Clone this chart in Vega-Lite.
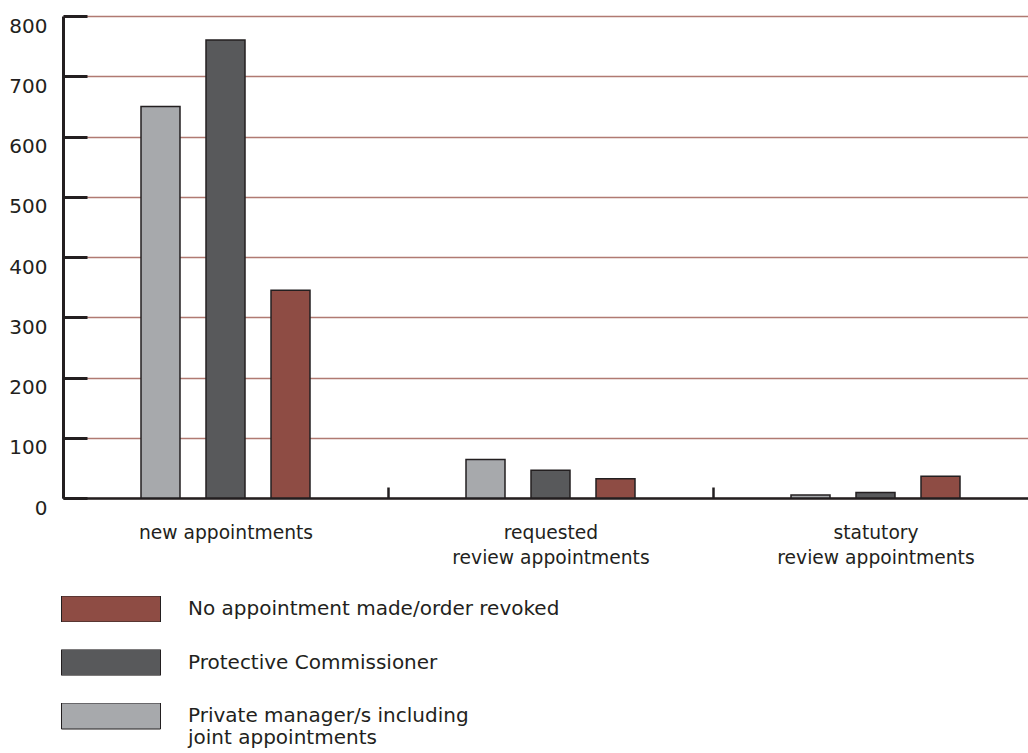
{
  "$schema": "https://vega.github.io/schema/vega-lite/v6.json",
  "width": 965,
  "height": 482,
  "autosize": "none",
  "padding": {"left": 63, "top": 16, "right": 0, "bottom": 255},
  "background": "white",
  "data": {
    "values": [
      {"type": "new appointments", "series": "Private manager/s including joint appointments", "value": 650},
      {"type": "new appointments", "series": "Protective Commissioner", "value": 760},
      {"type": "new appointments", "series": "No appointment made/order revoked", "value": 345},
      {"type": "requested review appointments", "series": "Private manager/s including joint appointments", "value": 64},
      {"type": "requested review appointments", "series": "Protective Commissioner", "value": 46},
      {"type": "requested review appointments", "series": "No appointment made/order revoked", "value": 32},
      {"type": "statutory review appointments", "series": "Private manager/s including joint appointments", "value": 5},
      {"type": "statutory review appointments", "series": "Protective Commissioner", "value": 9},
      {"type": "statutory review appointments", "series": "No appointment made/order revoked", "value": 36}
    ]
  },
  "mark": {"type": "bar", "stroke": "#231f20", "strokeWidth": 1.5},
  "encoding": {
    "x": {
      "field": "type",
      "type": "nominal",
      "sort": ["new appointments", "requested review appointments", "statutory review appointments"],
      "scale": {"range": [0, 975], "paddingInner": 0, "paddingOuter": 0},
      "axis": {
        "title": null,
        "domainColor": "#231f20",
        "domainWidth": 2.5,
        "tickColor": "#231f20",
        "tickWidth": 2.5,
        "tickSize": -11,
        "tickBand": "extent",
        "labelPadding": 36,
        "labelBaseline": "top",
        "labelAngle": 0,
        "labelLimit": 0,
        "labelFont": "DejaVu Sans",
        "labelFontSize": 18.7,
        "labelColor": "#231f20",
        "labelLineHeight": 25,
        "labelExpr": "datum.label == 'requested review appointments' ? ['requested', 'review appointments'] : datum.label == 'statutory review appointments' ? ['statutory', 'review appointments'] : datum.label"
      }
    },
    "xOffset": {
      "field": "series",
      "sort": ["Private manager/s including joint appointments", "Protective Commissioner", "No appointment made/order revoked"],
      "scale": {"range": [78, 247], "paddingInner": 0.4, "paddingOuter": 0}
    },
    "y": {
      "field": "value",
      "type": "quantitative",
      "scale": {"domain": [0, 800]},
      "axis": {
        "title": null,
        "values": [0, 100, 200, 300, 400, 500, 600, 700, 800],
        "grid": true,
        "gridColor": "#b07a72",
        "gridWidth": 1.5,
        "domainColor": "#231f20",
        "domainWidth": 3,
        "tickColor": "#231f20",
        "tickWidth": 3,
        "tickSize": -24,
        "labelPadding": 40,
        "labelOffset": 10,
        "labelFont": "DejaVu Sans",
        "labelFontSize": 20,
        "labelColor": "#231f20"
      }
    },
    "color": {
      "field": "series",
      "type": "nominal",
      "scale": {
        "domain": ["No appointment made/order revoked", "Protective Commissioner", "Private manager/s including joint appointments"],
        "range": ["#8e4c44", "#58595b", "#a7a9ac"]
      },
      "legend": {
        "title": null,
        "orient": "none",
        "legendX": -2,
        "legendY": 580,
        "padding": 0,
        "symbolType": "M-1,-0.263H1V0.263H-1Z",
        "symbolSize": 9801,
        "symbolStrokeColor": "#231f20",
        "symbolStrokeWidth": 1,
        "symbolOpacity": 1,
        "clipHeight": 26,
        "rowPadding": 27.5,
        "labelOffset": 27,
        "labelFont": "DejaVu Sans",
        "labelFontSize": 20,
        "labelColor": "#231f20",
        "labelLimit": 0,
        "labelLineHeight": 24,
        "labelExpr": "datum.label == 'Private manager/s including joint appointments' ? ['Private manager/s including', 'joint appointments'] : datum.label"
      }
    }
  },
  "config": {"view": {"stroke": null}}
}
